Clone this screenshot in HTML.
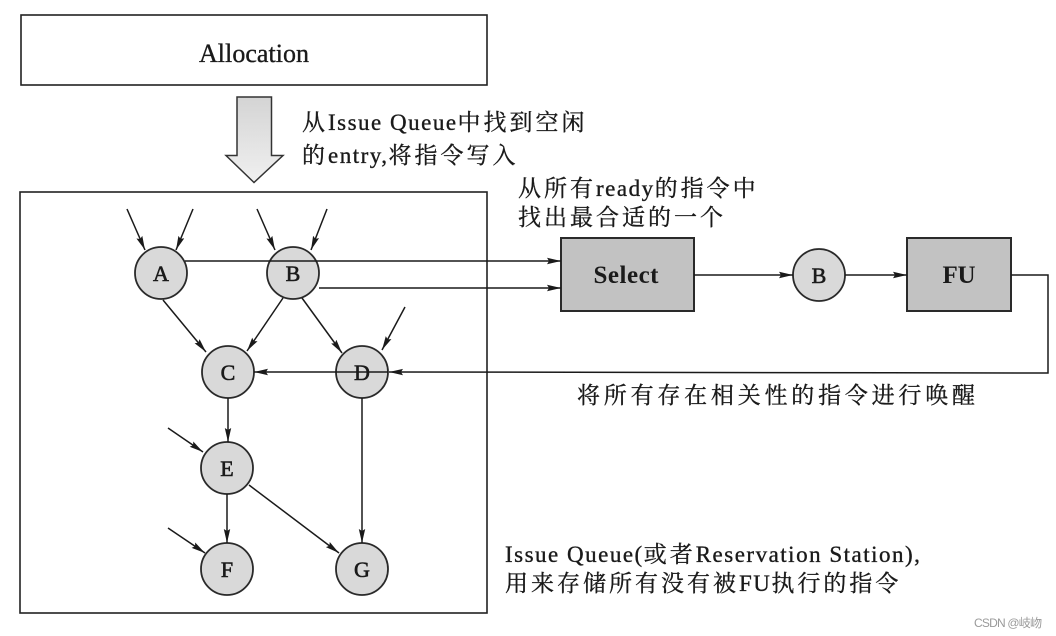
<!DOCTYPE html>
<html>
<head>
<meta charset="utf-8">
<style>
  html,body{margin:0;padding:0;background:#fff;}
  svg{display:block;}
  .t{font-family:"Liberation Serif","Noto Serif CJK SC",serif;fill:#1a1a1a;stroke:#1a1a1a;stroke-width:0.35;}
  .c{letter-spacing:3px;}
  .l{letter-spacing:1.5px;font-family:"Liberation Serif",serif;}
</style>
</head>
<body>
<svg width="1056" height="636" viewBox="0 0 1056 636" xmlns="http://www.w3.org/2000/svg">
  <defs>
    <marker id="ah" markerUnits="userSpaceOnUse" markerWidth="15" markerHeight="8" refX="14" refY="4" orient="auto">
      <path d="M0,0.8 L14,4 L0,7.2 L2,4 z" fill="#1a1a1a"/>
    </marker>
    <linearGradient id="ag" x1="0" y1="0" x2="0" y2="1">
      <stop offset="0" stop-color="#d4d4d4"/>
      <stop offset="1" stop-color="#f0f0f0"/>
    </linearGradient>
  </defs>
  <rect width="1056" height="636" fill="#fff"/>

  <!-- Allocation box -->
  <rect x="21" y="15" width="466" height="70" fill="#fff" stroke="#222" stroke-width="1.6"/>
  <text class="t" x="254" y="62" font-size="26" text-anchor="middle" textLength="110" lengthAdjust="spacing">Allocation</text>

  <!-- Big arrow -->
  <polygon points="237,97 271.5,97 271.5,155.5 283,155.5 254,182.5 226,155.5 237,155.5" fill="url(#ag)" stroke="#333" stroke-width="1.5"/>

  <text class="t" x="302" y="130" font-size="23"><tspan class="c">从</tspan><tspan class="l">Issue Queue</tspan><tspan class="c">中找到空闲</tspan></text>
  <text class="t" x="302" y="163" font-size="23"><tspan class="c">的</tspan><tspan class="l">entry,</tspan><tspan class="c">将指令写入</tspan></text>

  <!-- Issue Queue box -->
  <rect x="20" y="192" width="467" height="421" fill="none" stroke="#222" stroke-width="1.6"/>

  <!-- Nodes -->
  <g fill="#d9d9d9" stroke="#2a2a2a" stroke-width="1.8">
    <circle cx="161" cy="273" r="26"/>
    <circle cx="293" cy="273" r="26"/>
    <circle cx="228" cy="372" r="26"/>
    <circle cx="362" cy="372" r="26"/>
    <circle cx="227" cy="468" r="26"/>
    <circle cx="227" cy="569" r="26"/>
    <circle cx="362" cy="569" r="26"/>
    <circle cx="819" cy="275" r="26"/>
  </g>
  <g class="t" font-size="22" text-anchor="middle" style="stroke-width:0.6">
    <text x="161" y="281">A</text>
    <text x="293" y="281">B</text>
    <text x="228" y="380">C</text>
    <text x="362" y="380">D</text>
    <text x="227" y="476">E</text>
    <text x="227" y="577">F</text>
    <text x="362" y="577">G</text>
    <text x="819" y="283">B</text>
  </g>

  <!-- Select / FU boxes -->
  <rect x="561" y="238" width="133" height="73" fill="#c2c2c2" stroke="#2a2a2a" stroke-width="2"/>
  <rect x="907" y="238" width="104" height="73" fill="#c2c2c2" stroke="#2a2a2a" stroke-width="2"/>
  <text class="t" x="626" y="283" font-size="25" font-weight="bold" text-anchor="middle" textLength="65" lengthAdjust="spacing" style="stroke-width:0">Select</text>
  <text class="t" x="959" y="283" font-size="25" font-weight="bold" text-anchor="middle" textLength="33" lengthAdjust="spacing" style="stroke-width:0">FU</text>

  <!-- Edges -->
  <g stroke="#1a1a1a" stroke-width="1.5" fill="none" marker-end="url(#ah)">
    <line x1="127" y1="209" x2="145" y2="250"/>
    <line x1="193" y1="209" x2="176" y2="250"/>
    <line x1="257" y1="209" x2="275" y2="250"/>
    <line x1="327" y1="209" x2="311" y2="250"/>
    <line x1="163" y1="300" x2="206" y2="352"/>
    <line x1="283" y1="298" x2="247" y2="351"/>
    <line x1="302" y1="298" x2="342" y2="353"/>
    <line x1="405" y1="307" x2="382" y2="350"/>
    <line x1="228" y1="398" x2="228" y2="442"/>
    <line x1="168" y1="428" x2="203" y2="452"/>
    <line x1="227" y1="494" x2="227" y2="543"/>
    <line x1="168" y1="528" x2="205" y2="553"/>
    <line x1="249" y1="485" x2="339" y2="553"/>
    <line x1="362" y1="398" x2="362" y2="543"/>
    <line x1="185" y1="261" x2="561" y2="261"/>
    <line x1="319" y1="288" x2="561" y2="288"/>
    <line x1="694" y1="275" x2="793" y2="275"/>
    <line x1="845" y1="275" x2="907" y2="275"/>
    <line x1="388" y1="372" x2="254" y2="372"/>
  </g>
  <!-- wakeup path -->
  <polyline points="1011,275 1048,275 1048,373 389,372" fill="none" stroke="#1a1a1a" stroke-width="1.5" marker-end="url(#ah)"/>

  <!-- Right-side texts -->
  <text class="t" x="518" y="196" font-size="23"><tspan class="c">从所有</tspan><tspan class="l">ready</tspan><tspan class="c">的指令中</tspan></text>
  <text class="t" x="518" y="225" font-size="23"><tspan class="c">找出最合适的一个</tspan></text>
  <text class="t" x="577" y="403" font-size="23" textLength="398" lengthAdjust="spacing">将所有存在相关性的指令进行唤醒</text>
  <text class="t" x="505" y="562" font-size="23"><tspan class="l">Issue Queue(</tspan><tspan class="c">或者</tspan><tspan class="l">Reservation Station),</tspan></text>
  <text class="t" x="505" y="591" font-size="23"><tspan class="c">用来存储所有没有被</tspan><tspan class="l">FU</tspan><tspan class="c">执行的指令</tspan></text>

  <!-- watermark -->
  <text x="974" y="627" font-family="'Liberation Sans','Noto Sans CJK SC',sans-serif" font-size="12" fill="#9a9a9a" textLength="68" lengthAdjust="spacing">CSDN @岐岉</text>
</svg>
</body>
</html>
